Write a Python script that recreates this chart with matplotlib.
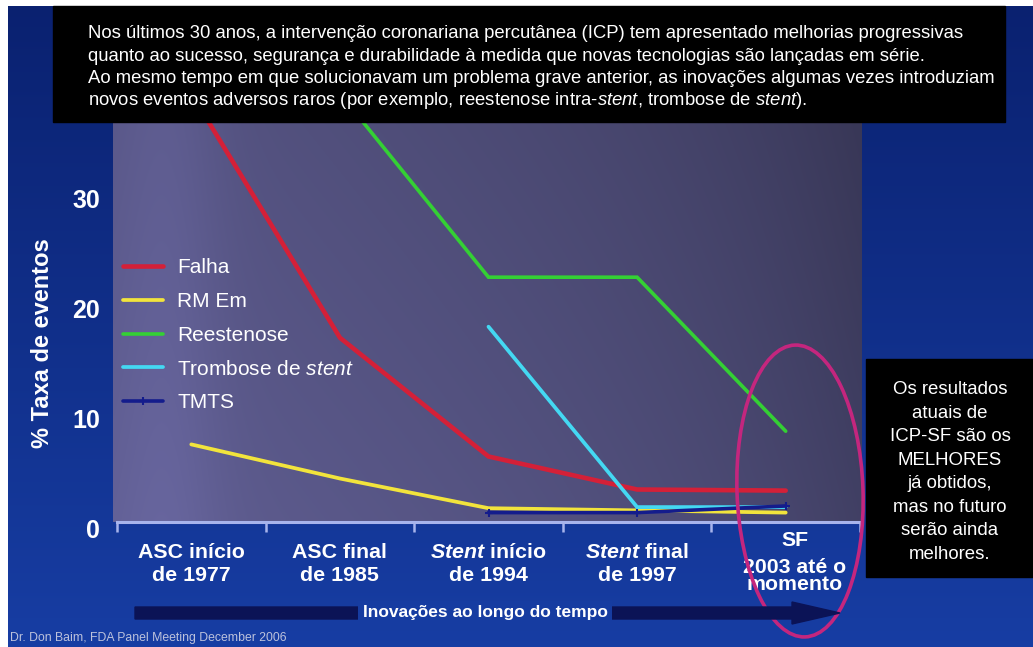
import numpy as np
import matplotlib.pyplot as plt
from matplotlib.patches import Rectangle, Ellipse, FancyArrow
from matplotlib.transforms import blended_transform_factory

plt.rcParams['font.family'] = ['Liberation Sans', 'DejaVu Sans']
plt.rcParams['mathtext.fontset'] = 'custom'
plt.rcParams['mathtext.rm'] = 'Liberation Sans'
plt.rcParams['mathtext.it'] = 'Liberation Sans:italic:bold'
plt.rcParams['mathtext.sf'] = 'Liberation Sans:italic'
plt.rcParams['mathtext.bf'] = 'Liberation Sans:bold'

# eras of coronary intervention
periods = ["ASC início\nde 1977",
           "ASC final\nde 1985",
           r"$\mathit{Stent}$ início" + "\nde 1994",
           r"$\mathit{Stent}$ final" + "\nde 1997",
           "SF\n2003 até o\nmomento"]

# % event rates per era (nan = not applicable yet)
falha = [39.5, 17.3, 6.5, 3.5, 3.4]
rm_em = [7.6, 4.5, 1.8, 1.6, 1.4]
reestenose = [np.nan, 39.5, 22.8, 22.8, 8.8]
trombose = [np.nan, np.nan, 18.3, 1.9, 1.9]
tmts = [np.nan, np.nan, 1.4, 1.4, 2.0]

series_names = ["Falha", "RM Em", "Reestenose", r"Trombose de $\mathsf{stent}$", "TMTS"]
series_colors = ["#d42038", "#f2e43c", "#34d034", "#44d8f2", "#141c8c"]

yticks = [0, 10, 20, 30]

intro = ["Nos últimos 30 anos, a intervenção coronariana percutânea (ICP) tem apresentado melhorias progressivas",
         "quanto ao sucesso, segurança e durabilidade à medida que novas tecnologias são lançadas em série.",
         "Ao mesmo tempo em que solucionavam um problema grave anterior, as inovações algumas vezes introduziam",
         r"novos eventos adversos raros (por exemplo, reestenose intra-$\mathsf{stent}$, trombose de $\mathsf{stent}$)."]
note = "Os resultados\natuais de\nICP-SF são os\nMELHORES\njá obtidos,\nmas no futuro\nserão ainda\nmelhores."

W, H = 1033, 647
fig = plt.figure(figsize=(W / 100, H / 100), dpi=100, facecolor="white")

# background layer in pixel coordinates
bg = fig.add_axes([0, 0, 1, 1], zorder=0)
bg.set_xlim(0, W)
bg.set_ylim(H, 0)
bg.axis("off")

# slide blue, slightly lighter towards the bottom
grad = np.linspace(0, 1, 256)[:, None]
top_c = np.array([0.04, 0.13, 0.44])
bot_c = np.array([0.09, 0.24, 0.64])
blue = top_c + (bot_c - top_c) * grad
bg.imshow(np.repeat(blue[:, None, :], 2, axis=1).reshape(256, 2, 3),
          extent=(8, W, H, 6), aspect="auto", interpolation="bilinear")

# grey-violet plot panel, darker to the right, light band near the axis
px, py = np.meshgrid(np.linspace(113, 862, 300), np.linspace(6, 522, 200))
t = (px - 113) / (862 - 113)
v = (py - 6) / 516
base = 0.33 - 0.08 * t - 0.04 * t ** 5 + 0.045 * v
band = 0.035 * np.exp(-((px - 165) / 55) ** 2)
val = base + band
panel = np.dstack([val, val * 0.98, val * 1.5 + 0.01])
bg.imshow(np.clip(panel, 0, 1), extent=(113, 862, 522, 6), aspect="auto",
          interpolation="bilinear")

# data axes: value 0 sits 6 px below the drawn axis line
ax = fig.add_axes([117 / W, (H - 534) / H, (860 - 117) / W, (534 - 6) / H], zorder=1)
ax.set_facecolor("none")
ax.set_xlim(-0.5, 4.5)
ax.set_ylim(-6 / 11, 522 / 11)

x = np.arange(len(periods))
series = [falha, rm_em, reestenose, trombose, tmts]
widths = [3.3, 2.7, 2.6, 2.7, 2.6]
for vals, name, col, lw in zip(series, series_names, series_colors, widths):
    if name == "TMTS":
        ax.plot(x, vals, color=col, lw=lw, label=name, marker="+", ms=6, mew=1.5,
                solid_capstyle="round", zorder=3)
    else:
        ax.plot(x, vals, color=col, lw=lw, label=name, solid_capstyle="round",
                solid_joinstyle="miter", zorder=2)

for side in ["top", "right", "left"]:
    ax.spines[side].set_visible(False)
ax.spines["bottom"].set_position(("data", 6 / 11))
ax.spines["bottom"].set_color("#a8b4ec")
ax.spines["bottom"].set_linewidth(2.2)
ax.set_xticks(np.arange(-0.5, 5, 1))
ax.set_xticklabels([])
ax.tick_params(axis="x", length=7, width=1.8, color="#a8b4ec", direction="out")
ax.set_yticks(yticks)
ax.set_yticklabels([str(v) for v in yticks], fontsize=18, fontweight="bold", color="white")
ax.tick_params(axis="y", length=0, pad=12)

leg = ax.legend(loc="upper left", bbox_to_anchor=(0.0, (534 - 252) / 528), frameon=False,
                fontsize=15, handlelength=1.9, handletextpad=0.7, labelspacing=0.71,
                borderaxespad=0, borderpad=0.3, numpoints=1)
for txt in leg.get_texts():
    txt.set_color("white")

# era labels under the axis
lab_tr = blended_transform_factory(ax.transData, bg.transData)
for i, lab in enumerate(periods):
    if i == len(periods) - 1:
        head, rest = lab.split("\n", 1)
        ax.text(i + 0.06, 540, head, transform=lab_tr, ha="center", va="center",
                fontsize=15.3, fontweight="bold", color="white")
        ax.text(i + 0.06, 576, rest, transform=lab_tr, ha="center", va="center",
                fontsize=15.3, fontweight="bold", color="white", linespacing=0.85)
    else:
        ax.text(i, 564, lab, transform=lab_tr, ha="center", va="center", fontsize=15.4,
                fontweight="bold", color="white", linespacing=1.3)

bg.text(43, 343, "% Taxa de eventos", rotation=90, ha="center", va="center",
        fontsize=17, fontweight="bold", color="white")

# overlay: caption boxes, highlight ellipse, time arrow
ov = fig.add_axes([0, 0, 1, 1], zorder=2)
ov.set_xlim(0, W)
ov.set_ylim(H, 0)
ov.axis("off")
ov.patch.set_alpha(0)

ov.add_patch(Rectangle((53, 6), 952, 116, color="black"))
for k, line in enumerate(intro):
    ov.text(88, 38.5 + 22.3 * k, line, ha="left", va="baseline", fontsize=13.3, color="white")

ov.add_patch(Rectangle((866, 359), 170, 218, color="black"))
ov.text(950, 472, note, ha="center", va="center", fontsize=13.4, color="white",
        linespacing=1.5)

ov.add_patch(Ellipse((800, 491), 126, 292, angle=-2, fill=False, edgecolor="#c4267e", lw=2.6))

ov.add_patch(FancyArrow(135, 613, 705, 0, width=12, head_width=22, head_length=48,
                        length_includes_head=True, color="#0b1356"))
ov.text(485, 613, "Inovações ao longo do tempo", ha="center", va="center", fontsize=12.5,
        fontweight="bold", color="white",
        bbox=dict(boxstyle="square,pad=0.25", facecolor=tuple(top_c + (bot_c - top_c) * 0.95),
                  edgecolor="none"))

ov.text(10, 638, "Dr. Don Baim, FDA Panel Meeting December 2006", ha="left", va="center",
        fontsize=8.8, color="#bcc2dc")

fig.savefig("out.png", dpi=100, facecolor="white")
